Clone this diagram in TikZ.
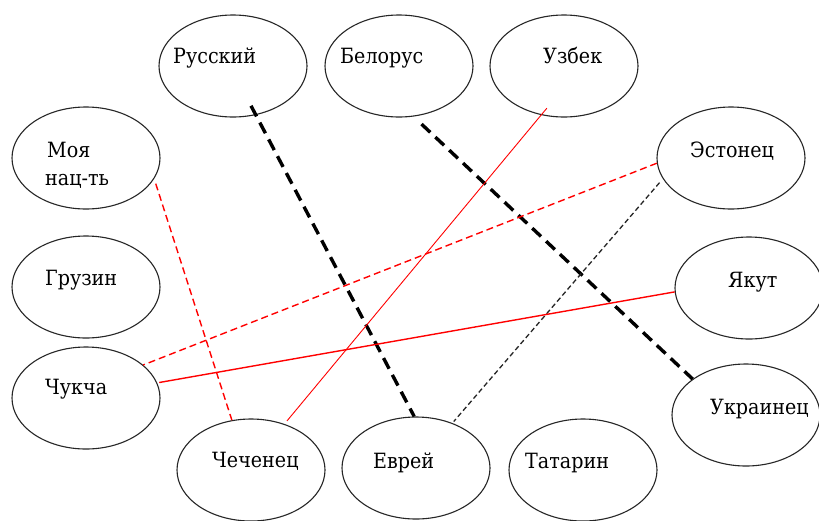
\documentclass[tikz,border=0pt]{standalone}
\usepackage{fontspec}
\setmainfont{DejaVu Serif}[FakeStretch=0.91]
\usetikzlibrary{shapes.geometric}
\begin{document}
\begin{tikzpicture}[x=1pt,y=-1pt,
  oval/.style={ellipse, draw=black!85, line width=1.1pt, minimum width=148pt, minimum height=102pt, inner sep=0pt},
  lbl/.style={anchor=base west, inner sep=0pt, font=\fontsize{21}{24}\selectfont},
  thickdash/.style={draw=black, line width=3.4pt, dash pattern=on 12pt off 7pt},
  reddash/.style={draw=red, line width=1.4pt, dash pattern=on 7pt off 4pt},
  blackdash/.style={draw=black!85, line width=1.3pt, dash pattern=on 5pt off 3pt},
  redthin/.style={draw=red, line width=0.9pt},
  redsolid/.style={draw=red, line width=1.4pt}]
\useasboundingbox (0,0) rectangle (819,520);
\fill[white] (0,0) rectangle (819,520);
% ellipses
\node[oval] (rus) at (233,66) {};
\node[oval] (bel) at (399,66) {};
\node[oval] (uzb) at (564,66) {};
\node[oval] (est) at (731,158) {};
\node[oval] (moya) at (86,158) {};
\node[oval] (gruz) at (86,287) {};
\node[oval] (chuk) at (86,398) {};
\node[oval] (yak) at (749,288) {};
\node[oval] (ukr) at (746,415) {};
\node[oval] (chech) at (251,470) {};
\node[oval] (evr) at (416,468) {};
\node[oval] (tat) at (583,470) {};
% labels
\node[lbl] (trus) at (173,63) {Русский};
\node[lbl] (tbel) at (340,63) {Белорус};
\node[lbl] (tuzb) at (543,63) {Узбек};
\node[lbl] (test) at (690,157) {Эстонец};
\node[lbl] (tmoya1) at (47,157) {Моя};
\node[lbl] (tmoya2) at (45,185) {нац-ть};
\node[lbl] (tgruz) at (45,285) {Грузин};
\node[lbl] (tchuk) at (45,394) {Чукча};
\node[lbl] (tyak) at (728,287) {Якут};
\node[lbl] (tukr) at (710,414) {Украинец};
\node[lbl] (tchech) at (212,467) {Чеченец};
\node[lbl] (tevr) at (373,468) {Еврей};
\node[lbl] (ttat) at (525,468) {Татарин};
% connectors
\draw[thickdash, shorten <=-10.5pt] (rus.-65) -- (evr.92);
\draw[thickdash, shorten <=11pt] (bel.-74) -- (ukr.146);
\draw[redthin, shorten <=-9pt, shorten >=4pt] (uzb.-115) -- (chech.54);
\draw[reddash] (est.184) -- (chuk.30);
\draw[blackdash, shorten <=5pt, shorten >=2pt] (est.197) -- (evr.51);
\draw[redsolid, shorten >=2pt] (yak.183) -- (chuk.12);
\draw[reddash, shorten <=5pt] (moya.-17) -- (chech.111);
\end{tikzpicture}
\end{document}
